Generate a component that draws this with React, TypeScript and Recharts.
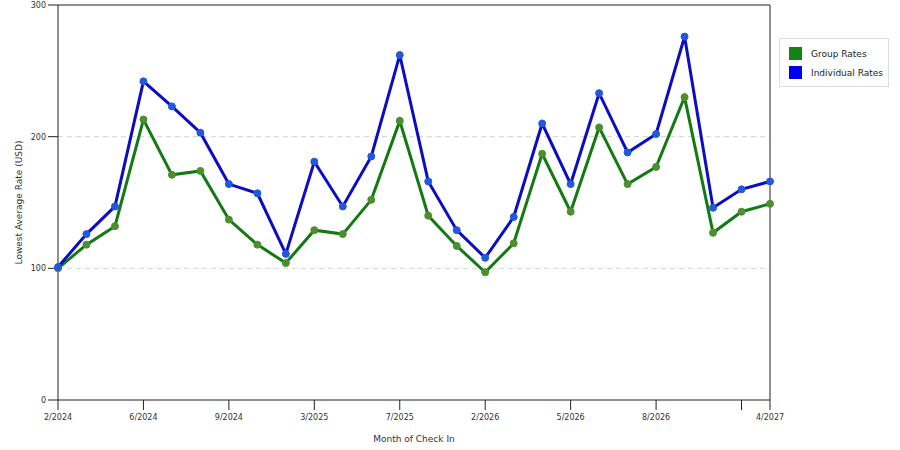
import {
  LineChart,
  Line,
  XAxis,
  YAxis,
  CartesianGrid,
  ReferenceLine,
} from "recharts";

// months of check in (only some are labelled on the axis)
const months = [
  "2/2024", "3/2024", "5/2024", "6/2024", "7/2024", "8/2024", "9/2024",
  "11/2024", "1/2025", "3/2025", "4/2025", "6/2025", "7/2025", "9/2025",
  "11/2025", "2/2026", "3/2026", "4/2026", "5/2026", "6/2026", "7/2026",
  "8/2026", "9/2026", "11/2026", "2/2027", "4/2027",
];

const groupRates = [
  100, 118, 132, 213, 171, 174, 137, 118, 104, 129, 126, 152, 212, 140, 117,
  97, 119, 187, 143, 207, 164, 177, 230, 127, 143, 149,
];

const individualRates = [
  101, 126, 147, 242, 223, 203, 164, 157, 111, 181, 147, 185, 262, 166, 129,
  108, 139, 210, 164, 233, 188, 202, 276, 146, 160, 166,
];

const tickMonths = [
  "2/2024", "6/2024", "9/2024", "3/2025", "7/2025", "2/2026", "5/2026",
  "8/2026", "2/2027", "4/2027",
];
const hiddenTickLabels = ["2/2027"];
const yTicks = [0, 100, 200, 300];

const series = [
  { key: "group", name: "Group Rates", color: "#137a13", dot: "#4d8f2f", swatch: "#168216" },
  { key: "individual", name: "Individual Rates", color: "#0c0cc4", dot: "#2458dc", swatch: "#0000ee" },
];

const data = months.map((m, i) => ({
  month: m,
  group: groupRates[i],
  individual: individualRates[i],
}));

const font = "'DejaVu Sans', Verdana, sans-serif";

export default function App() {
  return (
    <div style={{ position: "absolute", left: 0, top: 0, width: 900, height: 450, background: "#fff" }}>
      <LineChart
        width={900}
        height={450}
        data={data}
        margin={{ top: 5, right: 130, left: 0, bottom: 0 }}
      >
        <CartesianGrid
          horizontal
          vertical={false}
          stroke="#d4d4d4"
          strokeDasharray="5 4"
          horizontalValues={[100, 200]}
        />
        <XAxis
          dataKey="month"
          ticks={tickMonths}
          tickFormatter={(v) => (hiddenTickLabels.includes(v) ? "" : v)}
          height={50}
          tickSize={10}
          tickMargin={4}
          stroke="#222"
          tick={{ fill: "#333", fontSize: 8, fontFamily: font }}
          label={{
            value: "Month of Check In",
            position: "insideBottom",
            offset: 8,
            fill: "#333",
            fontSize: 9,
            fontFamily: font,
          }}
        />
        <YAxis
          domain={[0, 300]}
          ticks={yTicks}
          width={58}
          tickSize={10}
          stroke="#222"
          tick={{ fill: "#333", fontSize: 8, fontFamily: font }}
          label={{
            value: "Lowest Average Rate (USD)",
            angle: -90,
            position: "center",
            dx: -10,
            fill: "#333",
            fontSize: 9,
            fontFamily: font,
          }}
        />
        <ReferenceLine y={300} stroke="#222" />
        <ReferenceLine x={months[months.length - 1]} stroke="#222" />
        {series.map((s) => (
          <Line
            key={s.key}
            type="linear"
            dataKey={s.key}
            name={s.name}
            stroke={s.color}
            strokeWidth={3}
            dot={{ r: 3.5, fill: s.dot, stroke: s.dot, strokeWidth: 1 }}
            activeDot={false}
            isAnimationActive={false}
          />
        ))}
      </LineChart>

      <div
        style={{
          position: "absolute",
          left: 779,
          top: 38,
          width: 110,
          height: 49,
          boxSizing: "border-box",
          border: "1px solid #dcdcdc",
          background: "#fff",
          padding: "8px 0 0 9px",
          fontFamily: font,
          fontSize: 9,
          color: "#222",
        }}
      >
        {series.map((s) => (
          <div key={s.key} style={{ display: "flex", alignItems: "center", height: 13, marginBottom: 6 }}>
            <span style={{ width: 13, height: 13, background: s.swatch, marginRight: 9, display: "inline-block" }} />
            {s.name}
          </div>
        ))}
      </div>
    </div>
  );
}
